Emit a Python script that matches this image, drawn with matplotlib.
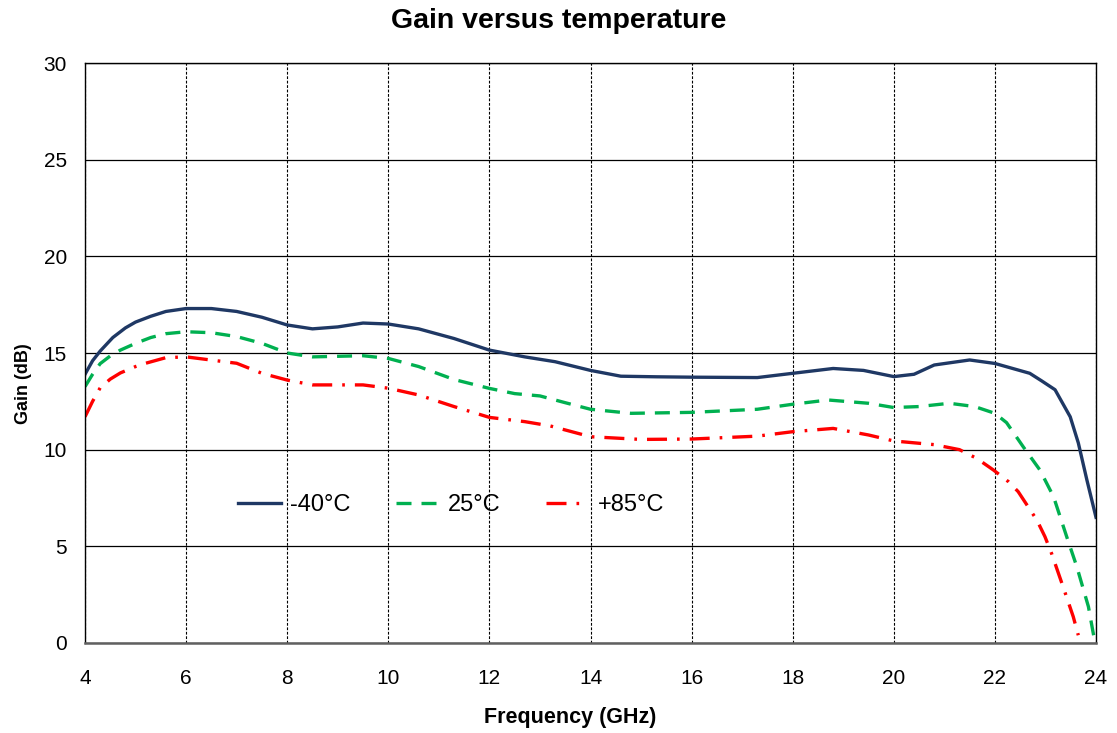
import matplotlib
matplotlib.use('Agg')
import matplotlib.pyplot as plt
from matplotlib.ticker import MultipleLocator

plt.rcParams['font.family'] = ['Liberation Sans', 'DejaVu Sans']

# Gain readings (dB) vs frequency (GHz)
f_m40 = [4.0, 4.15, 4.3, 4.55, 4.8, 5.0, 5.3, 5.6, 6.0, 6.5, 7.0, 7.5, 8.0, 8.5, 9.0, 9.5, 10.0,
         10.6, 11.3, 12.0, 12.7, 13.3, 14.0, 14.6, 15.3, 16.0, 17.3, 18.0, 18.8, 19.4, 20.0, 20.4,
         20.8, 21.5, 22.0, 22.69, 22.93, 23.19, 23.49, 23.65, 23.82, 24.0]
g_m40 = [13.9, 14.6, 15.1, 15.8, 16.3, 16.6, 16.9, 17.15, 17.3, 17.3, 17.15, 16.85, 16.45, 16.25,
         16.35, 16.55, 16.5, 16.25, 15.75, 15.15, 14.8, 14.55, 14.1, 13.8, 13.77, 13.75, 13.73, 13.95,
         14.2, 14.1, 13.78, 13.9, 14.38, 14.64, 14.46, 13.95, 13.55, 13.1, 11.7, 10.35, 8.43, 6.5]

f_25 = [4.0, 4.15, 4.3, 4.5, 4.7, 5.0, 5.3, 5.6, 6.0, 6.5, 7.0, 7.5, 8.0, 8.5, 9.5, 10.0, 10.6,
        11.3, 12.0, 12.5, 13.0, 13.5, 14.0, 14.8, 16.0, 17.3, 18.0, 18.7, 19.5, 20.0, 20.5, 21.1,
        21.6, 22.0, 22.23, 22.56, 22.89, 23.16, 23.42, 23.62, 23.85, 23.97]
g_25 = [13.26, 13.9, 14.45, 14.85, 15.15, 15.5, 15.8, 16.0, 16.1, 16.05, 15.85, 15.5, 15.0, 14.8,
        14.86, 14.72, 14.3, 13.63, 13.17, 12.9, 12.78, 12.43, 12.09, 11.88, 11.93, 12.09, 12.35,
        12.57, 12.4, 12.18, 12.23, 12.4, 12.23, 11.88, 11.4, 10.15, 8.95, 7.57, 5.5, 3.95, 1.88, 0.15]

f_85 = [4.0, 4.15, 4.3, 4.5, 4.7, 5.0, 5.2, 5.6, 6.0, 7.0, 7.5, 8.0, 8.5, 9.5, 10.0, 10.6, 11.3,
        12.0, 12.7, 13.2, 14.0, 15.0, 16.0, 17.3, 18.0, 18.8, 19.5, 20.0, 20.8, 21.3, 21.64, 21.97,
        22.27, 22.46, 22.83, 22.99, 23.12, 23.35, 23.55, 23.65]
g_85 = [11.7, 12.5, 13.2, 13.65, 13.97, 14.3, 14.47, 14.76, 14.8, 14.47, 13.95, 13.6, 13.35, 13.35,
        13.18, 12.83, 12.23, 11.67, 11.45, 11.23, 10.67, 10.53, 10.55, 10.7, 10.93, 11.1, 10.76,
        10.45, 10.26, 10.0, 9.55, 8.95, 8.34, 7.83, 6.36, 5.5, 4.64, 2.9, 1.36, 0.4]

fig = plt.figure(figsize=(11.17, 7.33), dpi=100)
ax = fig.add_axes([0.0761, 0.1228, 0.9051, 0.7912])

ax.plot(f_m40, g_m40, color='#1f3864', lw=2.4, label='-40°C')
ax.plot(f_25, g_25, color='#00b050', lw=2.4, dashes=(4.5, 3), label='25°C')
ax.plot(f_85, g_85, color='#ff0000', lw=2.4, dashes=(6, 3, 0.8, 3), label='+85°C')

ax.set_xlim(4, 24)
ax.set_ylim(0, 30)
ax.xaxis.set_major_locator(MultipleLocator(2))
ax.yaxis.set_major_locator(MultipleLocator(5))
ax.grid(axis='y', color='black', lw=0.9, ls='-')
ax.grid(axis='x', color='black', lw=0.8, ls=(0, (2.5, 1.5)))
ax.set_axisbelow(True)
for s in ax.spines.values():
    s.set_color('black')
    s.set_linewidth(1.0)
ax.spines['bottom'].set_color('#606060')
ax.spines['bottom'].set_linewidth(1.8)
ax.tick_params(length=0, labelsize=15)
ax.tick_params(axis='x', pad=19)
ax.tick_params(axis='y', pad=13)

fig.suptitle('Gain versus temperature', fontsize=20.5, fontweight='bold', x=0.5, y=0.962, va='baseline')
ax.set_xlabel('Frequency (GHz)', fontsize=15.5, fontweight='bold')
ax.set_ylabel('Gain (dB)', fontsize=13, fontweight='bold')
ax.xaxis.set_label_coords(0.48, -0.110)
ax.yaxis.set_label_coords(-0.052, 0.448)

ax.legend(loc='center left', bbox_to_anchor=(238 / 1117, 1 - 505 / 733),
          bbox_transform=fig.transFigure, ncol=3, frameon=False, borderpad=0, borderaxespad=0,
          fontsize=17, handlelength=1.8, columnspacing=1.9, handletextpad=0.42)

fig.savefig('out.png', dpi=100)
